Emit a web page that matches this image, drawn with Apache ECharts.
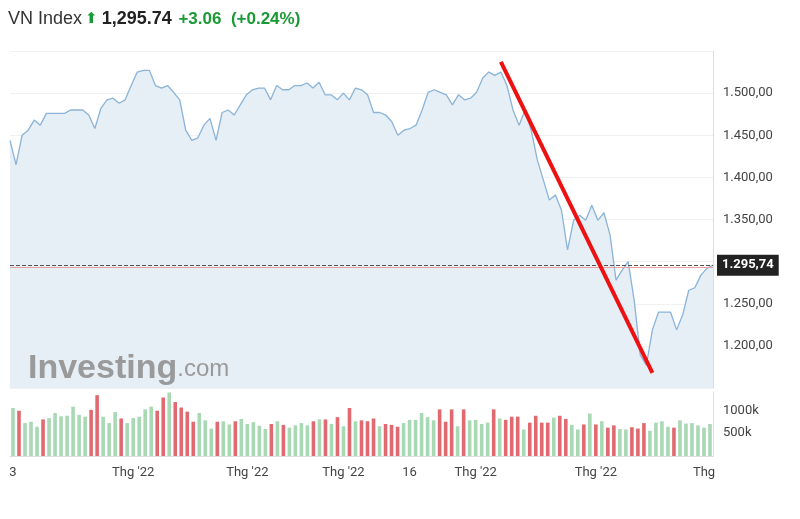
<!DOCTYPE html>
<html>
<head>
<meta charset="utf-8">
<script src="https://cdn.jsdelivr.net/npm/echarts@6/dist/echarts.min.js"></script>
<style>html,body{margin:0;padding:0;background:#fff}#c{width:800px;height:519px}</style>
</head>
<body>
<div id="c"></div>
<script>
// giá đóng cửa
var closes = [1444,1415,1450,1456,1468,1462,1476,1476,1476,1476,1480,1480,1480,1474,1458,1482,1492,1494,1488,1492,
  1509,1525,1527,1527,1509,1506,1509,1501,1492,1456,1444,1447,1462,1470,1444,1477,1480,1474,1486,1498,
  1504,1506,1506,1492,1509,1504,1504,1509,1509,1512,1506,1513,1498,1498,1492,1500,1492,1506,1504,1498,
  1477,1477,1474,1466,1450,1456,1458,1462,1480,1501,1504,1501,1498,1486,1498,1492,1494,1501,1518,1525,
  1521,1525,1509,1480,1462,1480,1456,1421,1397,1373,1379,1361,1314,1349,1355,1349,1367,1349,1358,1332,
  1278,1290,1300,1254,1189,1177,1219,1240,1240,1240,1219,1237,1266,1269,1284,1292,1296];
// khối lượng (nghìn)
var volumes = [1050,990,720,750,640,800,830,940,870,880,1080,900,860,1010,1330,860,720,960,820,720,
  830,860,1020,1080,990,1280,1390,1180,1060,970,750,940,780,600,750,760,690,760,810,700,
  740,660,590,700,760,680,620,670,720,670,760,800,800,700,850,650,1050,760,780,760,
  820,650,700,680,640,720,790,790,940,850,780,1020,750,1020,650,1020,780,790,700,730,
  1020,820,790,860,860,580,730,880,730,730,840,880,810,680,580,690,930,690,760,620,
  670,590,580,630,600,720,550,730,760,640,620,780,710,720,670,620,700];
var lastValue = 1295.74;
var xLabels = {0:'3',20:"Thg '22",39:"Thg '22",55:"Thg '22",66:'16',77:"Thg '22",97:"Thg '22",115:'Thg'};

var cats = closes.map(function (v, i) { return i; });
var volData = volumes.map(function (v, i) {
    var up = i === 0 || closes[i] >= closes[i - 1];
    return { value: v * 1000, itemStyle: { color: up ? '#a8d8b4' : '#e06a6f' } };
});
function fmt(v) {
    var s = v.toFixed(2).split('.');
    return s[0].replace(/\B(?=(\d{3})+(?!\d))/g, '.') + ',' + s[1];
}

var chart = echarts.init(document.getElementById('c'));
var option = {
    animation: false,
    textStyle: { fontFamily: 'Roboto, "Open Sans", sans-serif' },
    graphic: [
        { type: 'text', left: 8, top: 10, style: {
            rich: {
                n: { fontSize: 18, fill: '#333' },
                a: { fontSize: 15, fill: '#1a9a34' },
                p: { fontSize: 18, fill: '#222', fontWeight: 'bold' },
                c: { fontSize: 17, fill: '#1a9a34', fontWeight: 'bold' }
            },
            text: '{n|VN Index} {a|⬆} {p|1,295.74}  {c|+3.06  (+0.24%)}'
        } },
        { type: 'text', left: 28, top: 352, z: 100, style: {
            rich: {
                b: { fontSize: 34, fontWeight: 'bold', fill: '#9a9a9a' },
                s: { fontSize: 24, fill: '#9a9a9a' }
            },
            text: '{b|Investing}{s|.com}'
        } }
    ],
    grid: [
        { left: 10, right: 87, top: 51, height: 337 },
        { left: 10, right: 87, top: 392, height: 64 }
    ],
    xAxis: [
        { type: 'category', data: cats, gridIndex: 0, boundaryGap: false,
          axisLine: { show: false }, axisTick: { show: false }, axisLabel: { show: false },
          splitLine: { show: false } },
        { type: 'category', data: cats, gridIndex: 1,
          axisLine: { lineStyle: { color: '#ddd' } }, axisTick: { show: false },
          splitLine: { show: false },
          axisLabel: { interval: 0, color: '#444', fontSize: 13, margin: 10,
              formatter: function (v, i) { return xLabels[i] || ''; } } }
    ],
    yAxis: [
        { type: 'value', gridIndex: 0, position: 'right', min: 1150, max: 1550, interval: 50,
          axisLine: { show: true, lineStyle: { color: '#ddd' } },
          axisLabel: { color: '#444', fontSize: 13, margin: 10, formatter: function (v) {
              return (v >= 1200 && v <= 1500 && v !== 1300) ? fmt(v) : ''; } },
          splitLine: { lineStyle: { color: '#f0f0f0' } } },
        { type: 'value', gridIndex: 1, position: 'right', min: 0, max: 1400000, interval: 500000,
          axisLine: { show: true, lineStyle: { color: '#ddd' } },
          axisLabel: { color: '#444', fontSize: 13, margin: 10, formatter: function (v) {
              return (v > 0 && v <= 1000000) ? (v / 1000) + 'k' : ''; } },
          splitLine: { show: false } }
    ],
    series: [
        { type: 'line', data: closes, xAxisIndex: 0, yAxisIndex: 0, symbol: 'none',
          lineStyle: { color: '#8ab4d8', width: 1.3 },
          areaStyle: { color: '#e6eef6', opacity: 1 },
          markLine: {
              symbol: 'none', silent: true,
              data: [
                  { yAxis: lastValue - 3, lineStyle: { color: '#e8a0a0', type: 'solid', width: 1 },
                    label: { show: false } },
                  { yAxis: lastValue, lineStyle: { color: '#555', type: 'dashed', width: 1 },
                    label: { show: true, position: 'end', distance: 4, formatter: fmt(lastValue), color: '#fff',
                             backgroundColor: '#222', padding: [4, 5], fontSize: 13, fontWeight: 'bold' } },
                  [ { coord: [81, 1537], label: { show: false } }, { coord: [106, 1168] } ]
              ],
              lineStyle: { color: '#ee1111', width: 4, type: 'solid' }
          } },
        { type: 'bar', data: volData, xAxisIndex: 1, yAxisIndex: 1, barWidth: '60%' }
    ]
};
chart.setOption(option);
</script>
</body>
</html>
